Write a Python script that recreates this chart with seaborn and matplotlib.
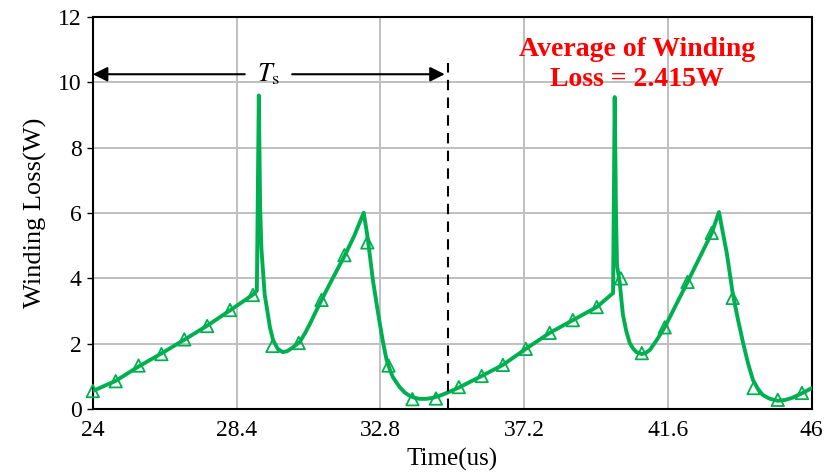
import matplotlib
matplotlib.use("Agg")
import matplotlib.pyplot as plt
import seaborn as sns
import pandas as pd

# waveform (time in us, loss in W)
line_t = [24.00, 24.70, 25.40, 26.10, 26.80, 27.50, 28.20, 28.90, 29.02, 29.08,
          29.12, 29.16, 29.26, 29.35, 29.42, 29.52, 29.66, 29.81, 29.95, 30.10,
          30.33, 30.50, 30.65, 31.00, 31.35, 31.72, 32.00, 32.29, 32.41, 32.49,
          32.57, 32.68, 32.78, 32.88, 32.99, 33.10, 33.18, 33.30, 33.39, 33.55,
          33.70, 33.85, 34.00, 34.20, 34.40, 34.60, 34.83, 35.23, 35.90, 36.55,
          37.25, 37.98, 38.69, 39.42, 39.92, 39.97, 40.01, 40.04, 40.12, 40.22,
          40.32, 40.43, 40.54, 40.64, 40.80, 40.92, 41.04, 41.25, 41.50, 42.20,
          42.94, 43.16, 43.28, 43.40, 43.50, 43.58, 43.74, 43.90, 44.05, 44.20,
          44.35, 44.50, 44.70, 44.96, 45.20, 45.40, 45.70, 46.00]
line_w = [0.55, 0.86, 1.30, 1.70, 2.12, 2.55, 3.02, 3.50, 3.62, 9.60,
          6.20, 4.90, 3.50, 2.95, 2.50, 2.10, 1.84, 1.74, 1.77, 1.87,
          2.05, 2.33, 2.62, 3.34, 4.02, 4.72, 5.30, 6.01, 5.25, 4.60,
          3.95, 3.25, 2.63, 2.05, 1.50, 1.18, 0.98, 0.80, 0.67, 0.50,
          0.40, 0.34, 0.31, 0.31, 0.34, 0.40, 0.49, 0.67, 1.01, 1.35,
          1.84, 2.33, 2.72, 3.12, 3.55, 9.55, 6.00, 4.40, 3.90, 2.90,
          2.40, 2.02, 1.84, 1.74, 1.68, 1.72, 1.80, 2.10, 2.50, 3.89,
          5.39, 6.03, 5.40, 4.77, 4.10, 3.55, 2.75, 2.02, 1.40, 0.89,
          0.62, 0.43, 0.32, 0.25, 0.28, 0.34, 0.48, 0.64]

# triangle markers
mark_t = [24.0, 24.7, 25.4, 26.1, 26.8, 27.5, 28.2, 28.9, 29.5, 30.3, 31.0,
          31.7, 32.4, 33.05, 33.78, 34.5, 35.2, 35.9, 36.55, 37.25, 37.98,
          38.69, 39.42, 40.16, 40.8, 41.5, 42.2, 42.94, 43.58, 44.22, 44.96, 45.7]
mark_w = [0.55, 0.85, 1.33, 1.68, 2.13, 2.54, 3.03, 3.49, 1.93, 2.02, 3.34,
          4.71, 5.10, 1.33, 0.30, 0.32, 0.67, 1.01, 1.35, 1.84, 2.33,
          2.72, 3.12, 4.00, 1.71, 2.50, 3.89, 5.39, 3.40, 0.64, 0.28, 0.49]

x_ticks = [24, 28.4, 32.8, 37.2, 41.6, 46]
x_ticklabels = ["24", "28.4", "32.8", "37.2", "41.6", "46"]
y_ticks = [0, 2, 4, 6, 8, 10, 12]

ts_start, ts_end = 24.0, 34.88
avg_text = "Average of Winding\nLoss = 2.415W"

green = "#00B050"

sns.set_theme(style="whitegrid")
plt.rcParams["font.family"] = ["Liberation Serif", "DejaVu Serif"]
plt.rcParams["mathtext.fontset"] = "stix"

fig = plt.figure(figsize=(8.36, 4.75), dpi=100)
ax = fig.add_axes([0.111, 0.139, 0.86, 0.825])

df_line = pd.DataFrame({"t": line_t, "w": line_w})
df_mark = pd.DataFrame({"t": mark_t, "w": mark_w})

sns.lineplot(data=df_line, x="t", y="w", ax=ax, color=green, linewidth=2.8,
             sort=False, zorder=3)
sns.scatterplot(data=df_mark, x="t", y="w", ax=ax, marker="^", s=80,
                facecolors="none", edgecolor=green, linewidth=1.3,
                zorder=4, clip_on=False)

ax.set_xlim(24, 46)
ax.set_ylim(0, 12)
ax.set_xticks(x_ticks)
ax.set_xticklabels(x_ticklabels)
ax.set_yticks(y_ticks)
ax.tick_params(axis="x", labelsize=17, colors="black", length=0, pad=8)
ax.tick_params(axis="y", labelsize=17, colors="black", length=4, width=1,
               direction="out", left=True, pad=4)

ax.grid(True, color="#BFBFBF", linewidth=1.4)
for sp in ax.spines.values():
    sp.set_color("black")
    sp.set_linewidth(1.5)

ax.set_xlabel("Time(us)", fontsize=18, color="black", labelpad=5)
ax.set_ylabel("Winding Loss(W)", fontsize=19, color="black", labelpad=8)

# period arrow
arrow_y = 10.25
ax.annotate("", xy=(ts_start, arrow_y), xytext=(28.65, arrow_y),
            arrowprops=dict(arrowstyle="-|>", color="black", lw=1.5,
                            mutation_scale=22, shrinkA=0, shrinkB=0))
ax.annotate("", xy=(34.77, arrow_y), xytext=(30.1, arrow_y),
            arrowprops=dict(arrowstyle="-|>", color="black", lw=1.5,
                            mutation_scale=22, shrinkA=0, shrinkB=0))
ax.text(29.37, arrow_y, r"$T_{\mathrm{s}}$", fontsize=19, ha="center",
        va="center", color="black")
ax.vlines(ts_end, 0, 10.6, colors="black", linestyles=(0, (5, 3.5)),
          linewidth=1.5, zorder=5)

ax.text(40.65, 10.55, avg_text, fontsize=20, fontweight="bold", color="red",
        ha="center", va="center", linespacing=1.22)

fig.savefig("out.png", dpi=100)
